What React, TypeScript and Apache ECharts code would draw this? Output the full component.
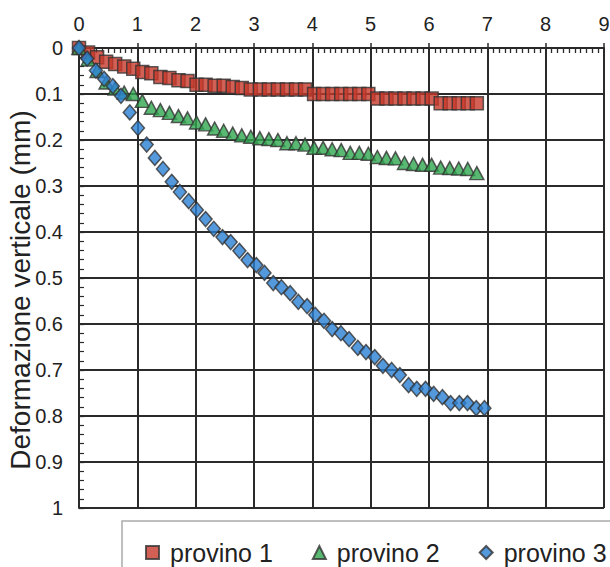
import React, { useEffect, useRef } from "react";
import * as echarts from "echarts";

// time axis values (top x axis)
const timeA = [
  0, 0.155, 0.31, 0.465, 0.62, 0.775, 0.93, 1.085, 1.24, 1.395, 1.55, 1.705, 1.86, 2.015, 2.17,
  2.325, 2.48, 2.635, 2.79, 2.945, 3.1, 3.255, 3.41, 3.565, 3.72, 3.875, 4.03, 4.185, 4.34, 4.495,
  4.65, 4.805, 4.96, 5.115, 5.27, 5.425, 5.58, 5.735, 5.89, 6.045, 6.2, 6.355, 6.51, 6.665, 6.82,
];
const timeB = [
  0, 0.14, 0.29, 0.43, 0.58, 0.72, 0.87, 1.01, 1.16, 1.3, 1.44, 1.59, 1.73, 1.88, 2.02, 2.17, 2.31,
  2.46, 2.6, 2.75, 2.89, 3.04, 3.18, 3.33, 3.47, 3.62, 3.76, 3.91, 4.05, 4.2, 4.34, 4.49, 4.63, 4.78,
  4.92, 5.07, 5.21, 5.36, 5.5, 5.65, 5.79, 5.94, 6.08, 6.23, 6.37, 6.52, 6.66, 6.81, 6.95,
];

const provino1 = [
  0, 0.01, 0.02, 0.03, 0.035, 0.04, 0.045, 0.052, 0.055, 0.063, 0.065, 0.07, 0.072, 0.08, 0.08,
  0.082, 0.082, 0.085, 0.087, 0.09, 0.09, 0.09, 0.09, 0.09, 0.09, 0.09, 0.1, 0.1, 0.1, 0.1,
  0.1, 0.1, 0.1, 0.11, 0.11, 0.11, 0.11, 0.11, 0.11, 0.11, 0.12, 0.12, 0.12, 0.12, 0.12,
];
const provino2 = [
  0, 0.025, 0.05, 0.075, 0.088, 0.097, 0.1, 0.115, 0.13, 0.135, 0.141, 0.148, 0.153, 0.162, 0.166,
  0.175, 0.18, 0.186, 0.19, 0.193, 0.196, 0.198, 0.2, 0.207, 0.207, 0.21, 0.217, 0.217, 0.22, 0.222,
  0.228, 0.228, 0.23, 0.237, 0.239, 0.24, 0.25, 0.252, 0.254, 0.254, 0.26, 0.261, 0.262, 0.263, 0.272,
];
const provino3 = [
  0, 0.023, 0.049, 0.067, 0.083, 0.104, 0.14, 0.174, 0.21, 0.239, 0.263, 0.291, 0.313, 0.333, 0.352,
  0.372, 0.393, 0.411, 0.422, 0.441, 0.461, 0.472, 0.489, 0.511, 0.52, 0.533, 0.552, 0.561, 0.58,
  0.593, 0.611, 0.62, 0.633, 0.652, 0.661, 0.672, 0.691, 0.7, 0.711, 0.733, 0.741, 0.741, 0.752,
  0.759, 0.772, 0.772, 0.772, 0.783, 0.783,
];

const seriesNames = ["provino 1", "provino 2", "provino 3"];
const yTitle = "Deformazione verticale (mm)";

const FONT = "'Liberation Sans', Arial, Helvetica, sans-serif";
const INK = "#2a2a2a";

export default function App() {
  const ref = useRef<HTMLDivElement>(null);
  useEffect(() => {
    if (!ref.current) return;
    const chart = echarts.init(ref.current, undefined, { renderer: "svg" });
    const lineStyle = { color: INK, width: 2 };
    const mark = { borderColor: "#333", borderWidth: 1.5 };
    chart.setOption({
      animation: false,
      backgroundColor: "#ffffff",
      grid: { left: 79, top: 48, width: 525, height: 460, containLabel: false },
      xAxis: [
        {
          type: "value",
          position: "top",
          min: 0,
          max: 9,
          interval: 1,
          axisLine: { show: true, onZero: false, lineStyle },
          axisTick: { show: true, inside: true, length: 5, lineStyle: { color: INK, width: 1.5 } },
          minorTick: { show: true, splitNumber: 10, length: 5, lineStyle: { color: INK, width: 1.3 } },
          axisLabel: { show: true, margin: 14, fontSize: 20, color: "#222", fontFamily: FONT },
          splitLine: { show: true, lineStyle },
        },
        {
          type: "value",
          position: "top",
          min: 0,
          max: 9,
          interval: 1,
          axisLine: { show: false },
          axisTick: { show: true, inside: false, length: 5, lineStyle: { color: INK, width: 1.5 } },
          axisLabel: { show: false },
          splitLine: { show: false },
        },
      ],
      yAxis: {
        type: "value",
        inverse: true,
        min: 0,
        max: 1,
        interval: 0.1,
        axisLine: { show: true, onZero: false, lineStyle },
        axisTick: { show: true, inside: true, length: 5, lineStyle: { color: INK, width: 1.3 } },
        minorTick: { show: true, splitNumber: 5, length: 5, lineStyle: { color: INK, width: 1.2 } },
        axisLabel: {
          margin: 16,
          fontSize: 20,
          color: "#222",
          fontFamily: FONT,
          formatter: (v: number) => String(Math.round(v * 10) / 10),
        },
        splitLine: { show: true, lineStyle },
      },
      legend: {
        left: 140,
        top: 535,
        itemWidth: 13,
        itemHeight: 13,
        itemGap: 39,
        data: [
          { name: seriesNames[0], icon: "rect" },
          { name: seriesNames[1], icon: "triangle" },
          { name: seriesNames[2], icon: "diamond" },
        ],
        textStyle: { fontSize: 25, color: "#222", fontFamily: FONT, padding: [0, 0, 0, 6] },
      },
      graphic: [
        {
          type: "rect",
          shape: { x: 122, y: 521, width: 700, height: 100 },
          style: { fill: "none", stroke: "#aaaaaa", lineWidth: 1.5 },
          silent: true,
        },
        {
          type: "text",
          x: 20,
          y: 290,
          rotation: Math.PI / 2,
          style: {
            text: yTitle,
            fontSize: 28,
            fontFamily: FONT,
            fill: "#222",
            align: "center",
            verticalAlign: "middle",
          },
        },
      ],
      series: [
        {
          name: seriesNames[0],
          type: "scatter",
          xAxisIndex: 0,
          data: timeA.map((x, i) => [x, provino1[i]]),
          symbol: "rect",
          symbolSize: 13,
          itemStyle: { color: "#c8382a", ...mark },
        },
        {
          name: seriesNames[1],
          type: "scatter",
          xAxisIndex: 0,
          data: timeA.map((x, i) => [x, provino2[i]]),
          symbol: "triangle",
          symbolSize: [14, 13],
          itemStyle: { color: "#2fa84f", ...mark },
        },
        {
          name: seriesNames[2],
          type: "scatter",
          xAxisIndex: 0,
          data: timeB.map((x, i) => [x, provino3[i]]),
          symbol: "diamond",
          symbolSize: [13, 15],
          itemStyle: { color: "#2b7fd4", ...mark },
        },
      ],
    });
    return () => chart.dispose();
  }, []);
  return (
    <div
      style={{
        position: "fixed",
        left: 0,
        top: 0,
        width: 610,
        height: 567,
        overflow: "hidden",
        background: "#fff",
      }}
    >
      <div ref={ref} style={{ width: 700, height: 567 }} />
    </div>
  );
}
